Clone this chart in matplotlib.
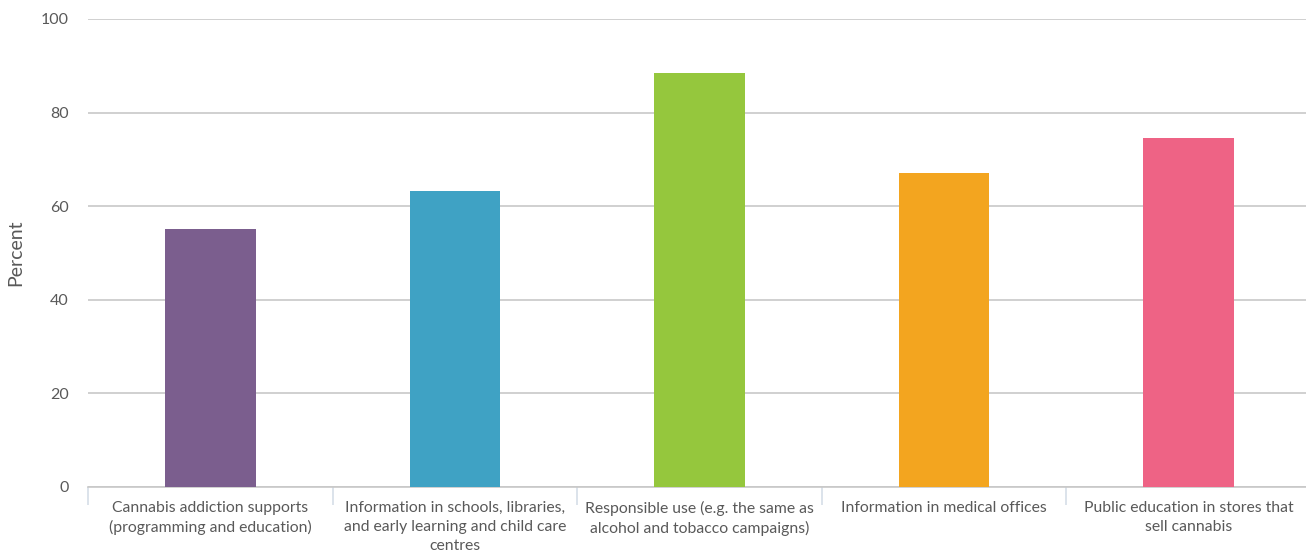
import matplotlib
matplotlib.use("Agg")
import matplotlib.pyplot as plt
import numpy as np

categories = [
    "Cannabis addiction supports\n(programming and education)",
    "Information in schools, libraries,\nand early learning and child care\ncentres",
    "Responsible use (e.g. the same as\nalcohol and tobacco campaigns)",
    "Information in medical offices",
    "Public education in stores that\nsell cannabis",
]
values = [55.2, 63.3, 88.4, 67.2, 74.5]
colors = ["#7B5E8E", "#3FA2C4", "#95C73D", "#F3A51F", "#EE6385"]
yticks = [0, 20, 40, 60, 80, 100]

plt.rcParams['font.family'] = ['Lato', 'DejaVu Sans']

fig = plt.figure(figsize=(13.06, 5.57), dpi=100)
ax = fig.add_axes([88/1306, 1 - 487/557, (1311 - 88)/1306, (487 - 19)/557])

x = np.arange(len(categories))
ax.bar(x, values, width=0.37, color=colors, zorder=3)
ax.set_xlim(-0.5, len(categories) - 0.5)
ax.set_ylim(0, 100)
ax.set_yticks(yticks)
ax.set_yticklabels([str(t) for t in yticks], fontsize=11.5, color="#595959")
ax.tick_params(axis='y', length=0, pad=14)
ax.yaxis.grid(True, color="#C8C8C8", linewidth=1.2, zorder=0)
ax.set_axisbelow(True)

for s in ["top", "right", "left"]:
    ax.spines[s].set_visible(False)
ax.spines["bottom"].set_color("#C8C8C8")
ax.spines["bottom"].set_linewidth(1.2)

ax.set_xticks(x)
ax.set_xticklabels(categories, fontsize=11.3, color="#595959", linespacing=1.45)
ax.tick_params(axis='x', length=0, pad=10)
ax.set_xticks(np.arange(len(categories) + 1) - 0.5, minor=True)
ax.tick_params(axis='x', which='minor', length=13, color="#D5DEE8", width=1.2)

ax.set_ylabel("Percent", fontsize=14, color="#595959")
ax.yaxis.set_label_coords(-0.052, 0.5)

fig.savefig("out.png", dpi=100)
